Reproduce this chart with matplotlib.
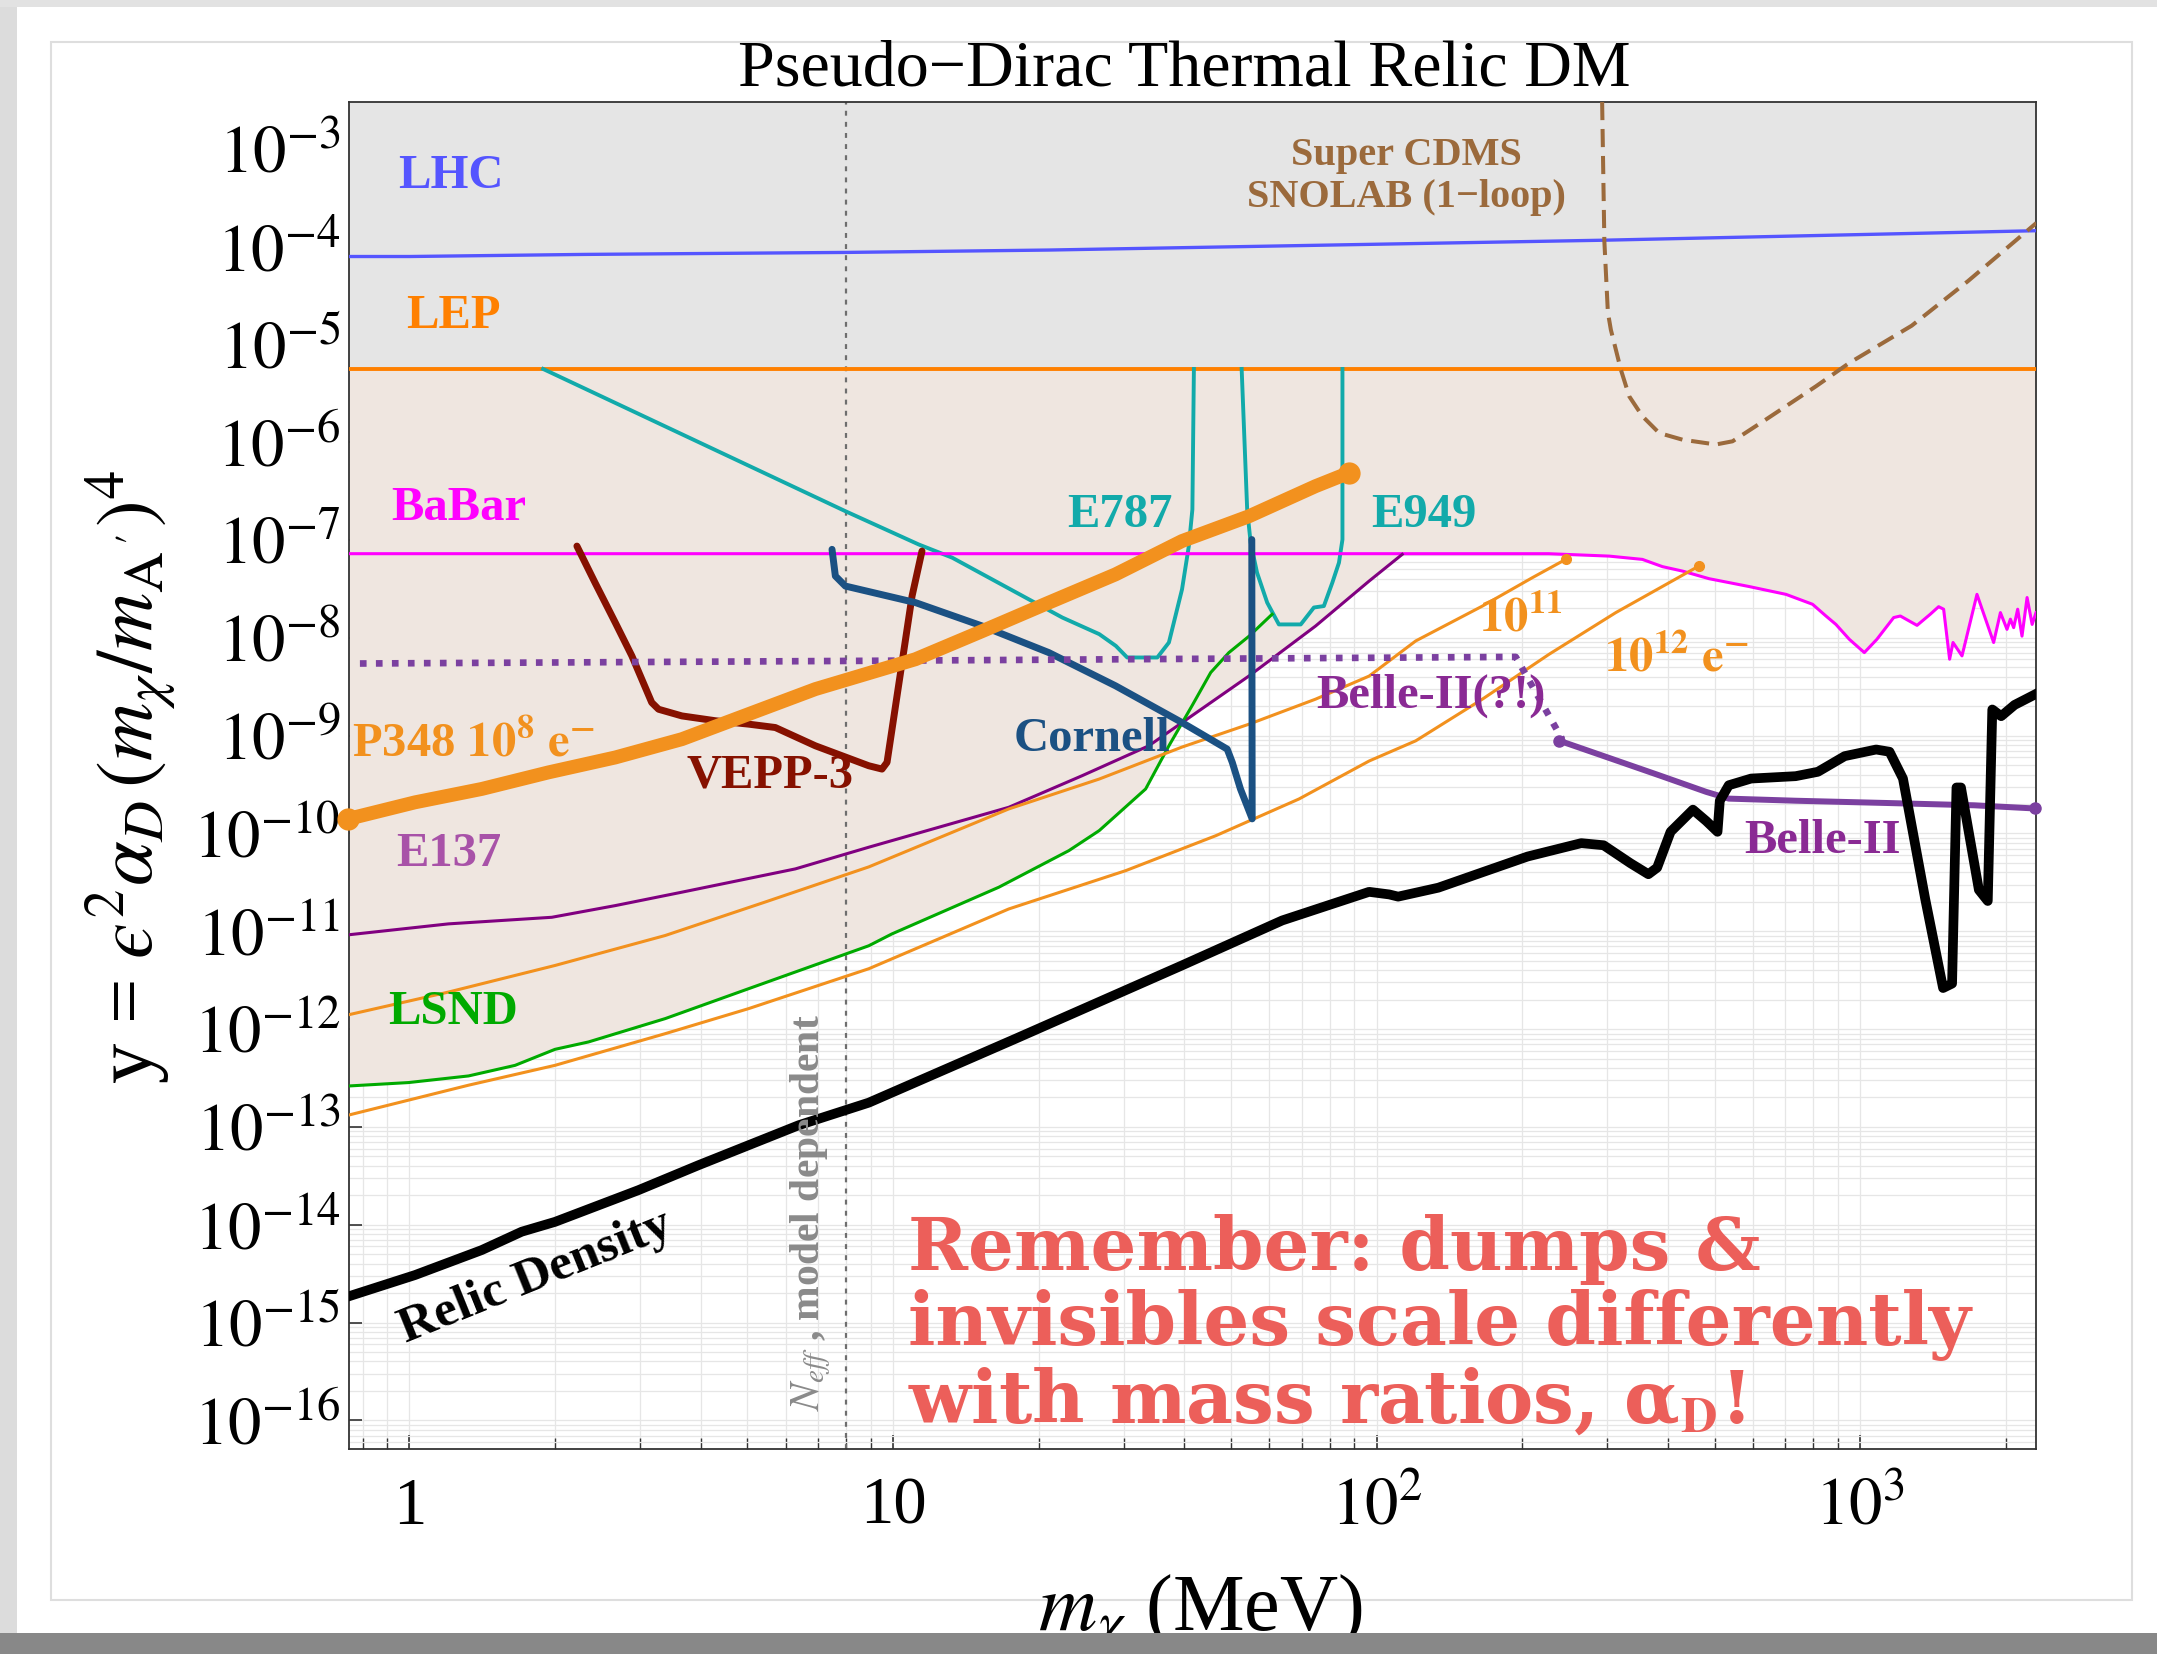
import numpy as np
import matplotlib
matplotlib.use("Agg")
import matplotlib.pyplot as plt
from matplotlib.patches import Rectangle
from matplotlib.ticker import LogLocator, NullFormatter

plt.rcParams["font.family"] = ["Liberation Serif", "DejaVu Serif"]
plt.rcParams["mathtext.fontset"] = "stix"

# ---- values (x = m_chi in MeV, y = eps^2 alpha_D (m_chi/m_A')^4) ----
XLIM = (0.75, 2310)
YLIM = (5.1e-17, 3.0e-3)

lhc_x = [0.75, 1.0, 2.3, 8.0, 21, 296, 2310]
lhc_y = [7.9e-5, 7.9e-5, 8.3e-5, 8.7e-5, 9.2e-5, 1.16e-4, 1.45e-4]

lep_y = 5.56e-6

e787_x = [1.89, 7.97, 11.3, 13.25, 22.4, 26.7, 28.9, 30.5, 35.2, 37.2, 39.6, 40.9, 41.6, 41.9]
e787_y = [5.6e-6, 1.97e-7, 9.0e-8, 6.6e-8, 1.61e-8, 1.09e-8, 8.26e-9, 6.29e-9, 6.29e-9,
          8.95e-9, 3.13e-8, 8.66e-8, 2.05e-7, 5.6e-6]

e949_x = [52.6, 54.0, 54.9, 56.6, 59.4, 62.8, 69.7, 74.2, 77.8, 81.0, 83.6, 85.0, 85.0]
e949_y = [5.6e-6, 2.05e-7, 9.38e-8, 4.63e-8, 2.29e-8, 1.37e-8, 1.37e-8, 2.04e-8, 2.11e-8,
          3.66e-8, 5.86e-8, 1.01e-7, 5.6e-6]

babar_x = [0.75, 227, 302.7, 354.6, 390, 429, 487, 589.6, 702.4, 797.3, 849.7, 891, 949.5,
           1020, 1083, 1173, 1211, 1311, 1396, 1453, 1488, 1531, 1556, 1624, 1744, 1888,
           1950, 2012, 2045, 2077, 2117, 2161, 2214, 2268, 2310]
babar_y = [7.24e-8, 7.24e-8, 6.84e-8, 6.33e-8, 5.34e-8, 4.81e-8, 4.02e-8, 3.34e-8, 2.78e-8,
           2.2e-8, 1.67e-8, 1.37e-8, 9.66e-9, 7.06e-9, 9.66e-9, 1.61e-8, 1.67e-8, 1.34e-8,
           1.74e-8, 2.08e-8, 1.96e-8, 6.04e-9, 8.95e-9, 6.53e-9, 2.78e-8, 8.95e-9, 1.81e-8,
           1.22e-8, 1.55e-8, 1.27e-8, 1.96e-8, 1.04e-8, 2.58e-8, 1.37e-8, 1.81e-8]

cdms_x = [292.7, 295.8, 300.8, 305.1, 320, 333, 354.6, 384, 429, 503, 544.5, 638, 810,
          949.5, 1278, 1671, 2314]
cdms_y = [3.0e-3, 1.14e-4, 2.13e-5, 1.41e-5, 5.51e-6, 2.94e-6, 1.84e-6, 1.24e-6, 1.06e-6,
          9.46e-7, 1.02e-6, 1.7e-6, 3.72e-6, 6.45e-6, 1.55e-5, 4.43e-5, 1.74e-4]

p348_x = [0.748, 1.027, 1.411, 1.939, 2.665, 3.66, 5.03, 6.91, 11.13, 15.29, 21.0, 28.85,
          39.6, 54.5, 74.8, 87.7]
p348_y = [1.41e-10, 2.08e-10, 2.85e-10, 4.21e-10, 5.98e-10, 9.2e-10, 1.66e-9, 2.99e-9,
          6.04e-9, 1.17e-8, 2.29e-8, 4.45e-8, 9.75e-8, 1.75e-7, 3.55e-7, 4.86e-7]

vepp_x = [2.22, 2.42, 2.665, 2.884, 3.17, 3.275, 3.66, 4.29, 5.03, 5.71, 6.91, 8.91, 9.49,
          9.72, 10.44, 10.95, 11.48]
vepp_y = [8.66e-8, 3.66e-8, 1.43e-8, 6.53e-9, 2.18e-9, 1.86e-9, 1.59e-9, 1.42e-9, 1.31e-9,
          1.21e-9, 7.87e-10, 4.92e-10, 4.55e-10, 5.33e-10, 5.58e-9, 2.67e-8, 7.7e-8]

cornell_x = [7.48, 7.6, 7.97, 11.13, 15.29, 21.0, 28.85, 39.6, 46.5, 49.1, 50.3, 52.3, 55.3, 55.2]
cornell_y = [8.02e-8, 4.28e-8, 3.38e-8, 2.29e-8, 1.32e-8, 7.06e-9, 3.23e-9, 1.36e-9, 8.53e-10,
             7.28e-10, 5.33e-10, 2.85e-10, 1.41e-10, 1.01e-7]

belle_q_x = [0.79, 8.0, 194, 242]
belle_q_y = [5.46e-9, 5.8e-9, 6.38e-9, 9.2e-10]

belle_x = [238.3, 314, 388.6, 480.5, 535, 735.5, 1125, 1722, 2296]
belle_y = [8.9e-10, 5.55e-10, 3.85e-10, 2.66e-10, 2.27e-10, 2.16e-10, 2.05e-10, 1.94e-10, 1.8e-10]

e137_x = [0.748, 1.204, 1.97, 2.665, 3.66, 6.28, 8.91, 17.35, 24.6, 33.8, 54.5, 74.8, 96.5, 113]
e137_y = [9.2e-12, 1.19e-11, 1.39e-11, 1.83e-11, 2.51e-11, 4.34e-11, 7.23e-11, 1.85e-10,
          3.89e-10, 7.87e-10, 4.08e-9, 1.32e-8, 3.8e-8, 7.13e-8]

lsnd_x = [0.748, 0.995, 1.325, 1.654, 2.0, 2.346, 3.38, 5.03, 8.91, 9.95, 16.55, 23.1, 26.7,
          33.3, 37.2, 41.6, 45.4, 49.5, 54.5, 60.8]
lsnd_y = [2.62e-13, 2.84e-13, 3.32e-13, 4.26e-13, 6.21e-13, 7.39e-13, 1.28e-12, 2.59e-12,
          7.11e-12, 9.4e-12, 2.82e-11, 6.67e-11, 1.07e-10, 2.85e-10, 7.87e-10, 2.05e-9,
          4.42e-9, 7.06e-9, 1.04e-8, 1.74e-8]

e11_x = [0.748, 1.204, 2.0, 3.38, 5.44, 8.91, 17.35, 26.7, 39.6, 54.5, 74.8, 96.5, 120.5,
         165.5, 210, 246]
e11_y = [1.4e-12, 2.39e-12, 4.47e-12, 9.05e-12, 1.99e-11, 4.55e-11, 1.78e-10, 3.6e-10,
         7.64e-10, 1.31e-9, 2.36e-9, 4.06e-9, 9.29e-9, 2.11e-8, 4.12e-8, 6.33e-8]

e12_x = [0.748, 1.325, 2.0, 3.38, 5.03, 8.91, 17.35, 30.3, 46.5, 69.1, 96.5, 120.5, 165.5,
         227.4, 312.4, 463.8]
e12_y = [1.32e-13, 2.67e-13, 4.26e-13, 8.98e-13, 1.62e-12, 4.14e-12, 1.69e-11, 4.17e-11,
         9.48e-11, 2.25e-10, 5.5e-10, 8.85e-10, 2.36e-9, 6.79e-9, 1.81e-8, 5.41e-8]

relic_x = [0.748, 1.027, 1.411, 1.707, 2.0, 2.977, 3.96, 6.38, 8.91, 17.92, 39.6, 63.8, 96.5,
           106.2, 110.8, 134.2, 166, 205.3, 265, 294.8, 335, 364.8, 380.3, 405.5, 451, 480.5,
           507, 512.6, 535, 594.9, 735.5, 817.8, 929, 1079, 1150, 1226, 1363, 1484, 1549,
           1582, 1616, 1760, 1836, 1876, 1957, 2086, 2314]
relic_y = [1.85e-15, 3.06e-15, 5.51e-15, 8.49e-15, 1.07e-14, 2.26e-14, 4.06e-14, 1.04e-13,
           1.77e-13, 7.97e-13, 4.48e-12, 1.29e-11, 2.53e-11, 2.38e-11, 2.26e-11, 2.79e-11,
           4.03e-11, 5.81e-11, 7.96e-11, 7.57e-11, 4.96e-11, 3.83e-11, 4.47e-11, 1.04e-10,
           1.75e-10, 1.34e-10, 1.04e-10, 2.16e-10, 3.11e-10, 3.64e-10, 3.85e-10, 4.27e-10,
           6.17e-10, 7.21e-10, 6.84e-10, 3.64e-10, 2.14e-11, 2.63e-12, 2.92e-12, 2.95e-10,
           2.95e-10, 2.65e-11, 2.04e-11, 1.85e-9, 1.58e-9, 2.06e-9, 2.68e-9]

neff_x = 8.0

ytick_exp = list(range(-16, -2))
xtick_vals = [1, 10, 100, 1000]
xtick_labels = ["1", "10", r"$10^2$", r"$10^3$"]

GRAY_FILL = "#e5e5e5"
BEIGE_FILL = "#efe6e0"
ORANGE = "#f2911e"
TEAL = "#12aaaa"
PURPLE = "#7b40a0"


def _loginterp(xg, xs, ys):
    return np.interp(np.log10(xg), np.log10(xs), np.log10(ys), left=np.inf, right=np.inf)


W, H = 2157, 1654
fig = plt.figure(figsize=(W / 100, H / 100), dpi=100)
fig.patch.set_facecolor("white")
ax = fig.add_axes([349 / W, 1 - 1449 / H, (2036 - 349) / W, (1449 - 102) / H])
ax.set_xscale("log")
ax.set_yscale("log")
ax.set_xlim(*XLIM)
ax.set_ylim(*YLIM)

# excluded regions: above LEP is grey, union of the other limits is beige
xg = np.logspace(np.log10(XLIM[0]), np.log10(XLIM[1]), 3000)
low = np.minimum.reduce([
    _loginterp(xg, lsnd_x, lsnd_y),
    _loginterp(xg, e137_x, e137_y),
    _loginterp(xg, e787_x, e787_y),
    _loginterp(xg, e949_x[:-1], e949_y[:-1]),
    _loginterp(xg, babar_x, babar_y),
])
low = np.minimum(low, np.log10(lep_y))
ax.fill_between(xg, 10 ** low, lep_y, color=BEIGE_FILL, lw=0, zorder=1)
ax.fill_between(XLIM, lep_y, 1.0, color=GRAY_FILL, lw=0, zorder=1)

ax.axvline(neff_x, color="#6e6e6e", lw=1.6, ls=(0, (2.2, 2.8)), zorder=2)

ax.plot(lhc_x, lhc_y, color="#5555ff", lw=2.4, zorder=3)
ax.axhline(lep_y, color="#ff8000", lw=2.8, zorder=3)
ax.plot(e787_x, e787_y, color=TEAL, lw=2.8, zorder=3)
ax.plot(e949_x, e949_y, color=TEAL, lw=2.8, zorder=3)
ax.plot(babar_x, babar_y, color="#ff00ff", lw=2.2, zorder=3)
ax.plot(cdms_x, cdms_y, color="#9b6a3c", lw=2.9, ls=(0, (4.5, 2.2)), zorder=3)
ax.plot(e137_x, e137_y, color="#800080", lw=2.2, zorder=3)
ax.plot(lsnd_x, lsnd_y, color="#00aa00", lw=2.2, zorder=3)
for xs, ys in ((e11_x, e11_y), (e12_x, e12_y)):
    ax.plot(xs, ys, color=ORANGE, lw=2.2, zorder=3)
    ax.plot(xs[-1], ys[-1], "o", color=ORANGE, ms=7, zorder=3)
ax.plot(vepp_x, vepp_y, color="#861100", lw=5, solid_capstyle="round", zorder=4)
ax.plot(cornell_x, cornell_y, color="#1b5183", lw=5, solid_capstyle="round", zorder=4)
ax.plot(belle_q_x, belle_q_y, color=PURPLE, lw=4.8, ls=(0, (1, 1.4)),
        dash_capstyle="butt", zorder=4)
ax.plot(belle_x, belle_y, color=PURPLE, lw=4.3, zorder=4)
ax.plot([belle_x[0], belle_x[-1]], [belle_y[0], belle_y[-1]], "o", color=PURPLE, ms=8,
        zorder=4, clip_on=False)
ax.plot(p348_x, p348_y, color=ORANGE, lw=10, solid_capstyle="round", zorder=5)
ax.plot([p348_x[0], p348_x[-1]], [p348_y[0], p348_y[-1]], "o", color=ORANGE, ms=15,
        zorder=5, clip_on=False)
ax.plot(relic_x, relic_y, color="black", lw=7, zorder=6)

# ticks and grid
ax.set_axisbelow(True)
ax.set_yticks([10.0 ** e for e in ytick_exp], labels=[rf"$10^{{{e}}}$" for e in ytick_exp])
ax.yaxis.set_minor_locator(LogLocator(base=10, subs=np.arange(2, 10), numticks=200))
ax.yaxis.set_minor_formatter(NullFormatter())
ax.set_xticks(xtick_vals, labels=xtick_labels)
ax.xaxis.set_minor_locator(LogLocator(base=10, subs=np.arange(2, 10), numticks=50))
ax.xaxis.set_minor_formatter(NullFormatter())
ax.tick_params(axis="both", which="major", direction="in", labelsize=48, width=1.2,
               color="#333333", top=False, right=False)
ax.tick_params(axis="y", which="major", length=9, pad=6)
ax.tick_params(axis="y", which="minor", length=0)
ax.tick_params(axis="x", which="major", length=10, pad=20)
ax.tick_params(axis="x", which="minor", direction="in", length=8, width=1.0, color="#333333",
               top=False)
ax.grid(True, which="both", color="#e6e6e6", lw=0.9)
for sp in ax.spines.values():
    sp.set_color("#333333")
    sp.set_linewidth(1.3)

bold = dict(fontweight="bold", fontsize=35, va="center", ha="left", zorder=7)
ax.text(0.949, 5.26e-4, "LHC", color="#5555ff", **bold)
ax.text(0.986, 1.96e-5, "LEP", color="#ff8000", **bold)
ax.text(0.918, 2.1e-7, "BaBar", color="#ff00ff", **bold)
ax.text(0.759, 8.2e-10, r"P348 $\mathbf{10^{8}\ e^{-}}$", color=ORANGE, **bold)
ax.text(3.74, 3.95e-10, "VEPP-3", color="#861100", **bold)
ax.text(0.94, 6.18e-11, "E137", color="#a852a8", **bold)
ax.text(0.905, 1.51e-12, "LSND", color="#00aa00", **bold)
ax.text(17.77, 9.2e-10, "Cornell", color="#1b5183", **bold)
ax.text(22.9, 1.82e-7, "E787", color=TEAL, **bold)
ax.text(97.4, 1.82e-7, "E949", color=TEAL, **bold)
ax.text(162.9, 1.55e-8, r"$\mathbf{10^{11}}$", color=ORANGE, **bold)
ax.text(295.4, 6.04e-9, r"$\mathbf{10^{12}\ e^{-}}$", color=ORANGE, **bold)
ax.text(74.9, 2.53e-9, "Belle-II(?!)", color="#8a2a94", **bold)
ax.text(575.8, 8.38e-11, "Belle-II", color="#8a2a94", **bold)
ax.text(115.3, 5.2e-4, "Super CDMS\nSNOLAB (1\u2212loop)", color="#9b6a3c", fontweight="bold",
        fontsize=29, ha="center", va="center", linespacing=1.15, zorder=7)
ax.text(1.823, 2.9e-15, "Relic Density", color="black", fontweight="bold", fontsize=37,
        rotation=22, rotation_mode="anchor", ha="center", va="center", zorder=7)
ax.text(6.76, 1.34e-14, r"$N_{eff}$ , model dependent", color="#8a8a8a", fontweight="bold",
        fontsize=30, rotation=90, ha="center", va="center", zorder=7)
ax.text(10.72, 9.3e-16,
        "Remember: dumps &\ninvisibles scale differently\nwith mass ratios, \u03b1$_\\mathbf{D}$!",
        color="#ec5f5a", family="DejaVu Serif", fontweight="bold", fontsize=52,
        ha="left", va="center", linespacing=1.08, zorder=7)

fig.text(1184 / W, 1 - 85 / H, "Pseudo\u2212Dirac Thermal Relic DM", fontsize=47.5,
         ha="center", va="baseline")
fig.text(131 / W, 1 - 777 / H, "y = $\u03f5^2\\alpha_D\\,(m_\\chi/m_{\\rm A\\,'})^4$",
         fontsize=58, rotation=90, ha="center", va="center")
fig.text(1201 / W, 1 - 1630 / H, r"$m_\chi$ (MeV)", fontsize=58, ha="center", va="baseline")

# card-style frame around the figure
fig.add_artist(Rectangle((50.5 / W, 1 - 1600 / H), (2131.7 - 50.5) / W, (1600 - 41.5) / H,
                         transform=fig.transFigure, fill=False, ec="#dedede", lw=1.5))
fig.add_artist(Rectangle((0, 0), 17 / W, 1, transform=fig.transFigure, fc="#dcdcdc", lw=0))
fig.add_artist(Rectangle((0, 1 - 7 / H), 1, 7 / H, transform=fig.transFigure, fc="#e2e2e2",
                         lw=0))
fig.add_artist(Rectangle((0, 0), 1, 21 / H, transform=fig.transFigure, fc="#888888", lw=0,
                         zorder=10))

fig.savefig("out.png", dpi=100)
